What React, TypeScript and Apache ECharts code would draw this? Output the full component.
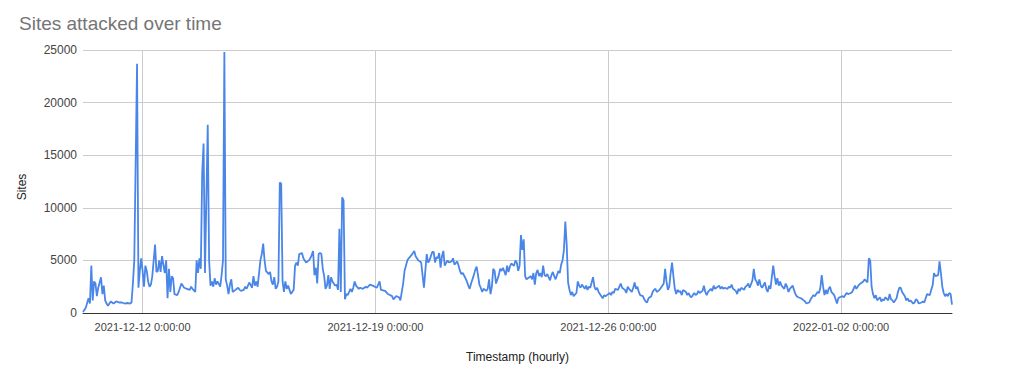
import React, { useEffect, useRef } from "react";
import * as echarts from "echarts";

// First hourly timestamp shown (UTC fields used for formatting)
const START_UTC = Date.UTC(2021, 11, 10, 5, 0, 0);
const HOUR_COUNT = 628; // hours 0..627

// Hour offsets from the first timestamp, and sites attacked at those hours
const hours = [
  0, 2, 4, 5, 6, 7, 8, 9, 10, 11, 13, 14, 15, 16, 17, 18, 20, 22, 24, 26, 28, 30, 32, 34, 35, 36, 37, 39, 40,
  41, 42, 43, 44, 45, 46, 47, 48, 49, 50, 52, 53, 54, 55, 56, 57, 58, 59, 60, 61, 62, 63, 64, 65, 66, 68, 69,
  71, 73, 75, 77, 78, 79, 81, 82, 83, 84, 85, 86, 87, 88, 90, 91, 92, 93, 94, 95, 96, 97, 99, 100, 101, 102,
  103, 104, 105, 106, 107, 108, 110, 111, 112, 113, 114, 116, 117, 118, 119, 120, 122, 123, 124, 125, 126,
  128, 129, 130, 131, 132, 134, 135, 136, 137, 138, 139, 140, 141, 142, 143, 144, 145, 146, 147, 148, 149,
  150, 152, 153, 154, 155, 156, 158, 159, 160, 161, 163, 164, 165, 166, 167, 168, 169, 170, 171, 172, 173,
  174, 175, 176, 177, 178, 179, 180, 182, 183, 184, 185, 186, 187, 188, 189, 190, 191, 193, 194, 195, 196,
  197, 199, 200, 202, 204, 205, 207, 209, 212, 214, 215, 218, 220, 223, 224, 226, 228, 229, 231, 232, 234,
  235, 237, 239, 240, 242, 244, 246, 247, 248, 249, 250, 252, 253, 254, 255, 256, 257, 258, 259, 260, 261,
  263, 264, 266, 267, 268, 270, 271, 272, 273, 274, 276, 277, 278, 279, 280, 282, 283, 284, 285, 286, 287,
  288, 289, 291, 292, 293, 294, 295, 296, 297, 298, 300, 301, 302, 303, 305, 306, 307, 308, 309, 311, 312,
  313, 314, 315, 316, 317, 318, 319, 320, 321, 323, 324, 325, 326, 327, 328, 329, 330, 331, 332, 333, 334,
  335, 337, 338, 339, 340, 341, 343, 344, 345, 346, 347, 348, 349, 350, 351, 352, 353, 354, 356, 357, 358,
  359, 360, 362, 363, 364, 365, 366, 368, 369, 370, 371, 372, 374, 375, 376, 377, 378, 380, 381, 382, 383,
  384, 386, 387, 388, 389, 391, 392, 393, 394, 396, 397, 398, 399, 400, 401, 402, 404, 405, 406, 407, 408,
  410, 411, 412, 413, 414, 416, 417, 419, 420, 421, 422, 423, 424, 425, 426, 427, 428, 429, 430, 431, 432,
  433, 435, 436, 437, 438, 439, 441, 442, 443, 444, 445, 447, 448, 449, 450, 451, 453, 454, 455, 456, 457,
  459, 460, 461, 462, 463, 465, 466, 467, 468, 469, 471, 472, 473, 474, 475, 477, 478, 479, 480, 481, 483,
  484, 485, 486, 487, 488, 489, 490, 492, 493, 494, 495, 496, 498, 499, 500, 501, 502, 503, 504, 506, 507,
  508, 509, 510, 512, 513, 514, 515, 516, 518, 519, 520, 521, 522, 524, 525, 526, 527, 528, 530, 531, 532,
  533, 534, 535, 536, 537, 538, 539, 540, 542, 543, 544, 545, 546, 548, 549, 550, 551, 552, 554, 555, 556,
  557, 558, 560, 561, 562, 563, 564, 566, 567, 568, 569, 570, 571, 572, 573, 575, 576, 577, 578, 579, 581,
  582, 583, 584, 585, 587, 588, 589, 590, 591, 593, 594, 595, 596, 597, 599, 600, 601, 602, 603, 605, 606,
  607, 608, 609, 611, 612, 613, 614, 615, 617, 618, 619, 620, 621, 622, 623, 624, 625, 626, 627,
];

const sites = [
  100, 500, 1400, 900, 4500, 1200, 3000, 2800, 1600, 2400, 3400, 1800, 2600, 1200, 900, 700, 1100, 900, 1100,
  1000, 1000, 900, 950, 900, 1000, 2800, 5000, 23700, 2400,
  4000, 5200, 4000, 2500, 4500, 4000, 3000, 2500, 2700, 3500, 6500, 3900, 4000, 5000, 3900, 5400, 4600, 3800,
  5000, 1400, 4200, 2000, 3500, 3300, 1800, 1700, 2000,
  2800, 2400, 2300, 2200, 2500, 2300, 2000, 5000, 3800, 5200, 4200, 13300, 16100, 3800, 17900, 5000, 2600,
  3000, 2500, 3300, 2700, 3000, 2500, 3600, 5000, 24800,
  3200, 2600, 1800, 2700, 3200, 2000, 2200, 2300, 2400, 2200, 2100, 2200, 2500, 2300, 2600, 2900, 2400, 3500,
  2600, 3000, 2500,
  5000, 5600, 6600, 5000, 4000, 3700, 3900, 3000, 2700, 3400, 2300, 2500, 3000, 12400, 12300, 3000, 2000,
  3000, 2300, 2600, 2200,
  1800, 2200, 4500, 4800, 4500, 5600, 5700, 5200, 5000, 4800, 5000, 5200, 5500, 5900, 3600, 4300, 2800, 5600,
  5700, 5600, 4200,
  3500, 2300, 2600, 3600, 2300, 3400, 3000, 2600, 2700, 2200, 8000, 2000, 11000, 10700, 1300, 1800, 1700,
  2300, 2000, 2400, 3000,
  2600, 2300, 2400, 2300, 2500, 2400, 2700, 2600, 2400, 3000, 2200, 2100, 1800, 1600, 1300, 1600, 1500, 1200,
  2800, 4000, 5000,
  5200, 5500, 5900, 5400, 5000, 4800, 2400, 4000, 5600, 4800, 5000, 5800, 5800, 4800, 5300, 5200, 5700, 4300,
  5400, 5900, 4500,
  5000, 4800, 4900, 5200, 4600, 4900, 4500, 4000, 3700, 3800, 3300, 3000, 2600, 2300, 2800, 3600, 4100, 4400,
  3600, 2700, 2400,
  2000, 2300, 2100, 2300, 3200, 1800, 2500, 4200, 4000, 2800, 3600, 4200, 4000, 4300, 3600, 4500, 3900, 4400,
  4700, 4500, 5000,
  4800, 4000, 4500, 7400, 6000, 7000, 3500, 3200, 3300, 3500, 3200, 3800, 2700, 3800, 4100, 3500, 3800, 3400,
  4500, 3600, 3500,
  3700, 3100, 3600, 3900, 3500, 3200, 4000, 3800, 4600, 5000, 6000, 8700, 6500, 2900, 2200, 1700, 2000, 1600,
  1900, 3000, 2600,
  2400, 2700, 2300, 2600, 2200, 2500, 2400, 3400, 2500, 2200, 2400, 2000, 1600, 1400, 1700, 1600, 1700, 1900,
  1700, 2000, 1900,
  2300, 2200, 2500, 2800, 2400, 2200, 1900, 2500, 2300, 2000, 2400, 2900, 2300, 2500, 2000, 1700, 1600, 1300,
  1100, 1000, 1400,
  1600, 2000, 2200, 2300, 2000, 2200, 2400, 2800, 4200, 3000, 2200, 2500, 3800, 4800, 3500, 2300, 1800, 2200,
  2000, 2100, 1700,
  2200, 2000, 1700, 1900, 1600, 1500, 1900, 1700, 1800, 2100, 1900, 2100, 2600, 2000, 1700, 2000, 2300, 2100,
  2600, 2300, 2400,
  2600, 2300, 2500, 2300, 2400, 2300, 2500, 2400, 2700, 2300, 2100, 1800, 2300, 2100, 2400, 2200, 2500, 2600,
  2800, 2400, 3100,
  4200, 3200, 3000, 2600, 3200, 2600, 2400, 2900, 2300, 2000, 2600, 2300, 4500, 3500, 2700, 3300, 2600, 3000,
  2600, 2300, 2800,
  2500, 2000, 2300, 2600, 2200, 1800, 1600, 1500, 1400, 1300, 1200, 1100, 900, 1000, 1300, 1500, 1700, 1600,
  2000, 1900, 2400,
  3600, 2500, 1700, 2200, 1800, 2300, 2500, 2000, 1700, 1300, 900, 1400, 1500, 1600, 1500, 1700, 1900, 1800,
  1900, 2000, 2300,
  2600, 2300, 2700, 2800, 2900, 3000, 3200, 2900, 5200, 5000, 2500, 1800, 1400, 1700, 1200, 1500, 1100, 1300,
  1200, 1500, 1200,
  1800, 1300, 1200, 1000, 1400, 2000, 2400, 2400, 2000, 1600, 1200, 1400, 1100, 1200, 900, 1000, 1300, 1200,
  900, 1000, 1100,
  1000, 1400, 1800, 1700, 2200, 2600, 3800, 3500, 3600, 4900, 3800, 2500, 1900, 1600, 1800, 1600, 1900, 1800,
  800,
];

const yTicks = [0, 5000, 10000, 15000, 20000, 25000];
// Hour indices of the labelled x ticks (midnight of 12-12, 12-19, 12-26, 01-02)
const labelledHours = [43, 211, 379, 547];

const pad = (n: number) => (n < 10 ? "0" + n : "" + n);
const categories: string[] = [];
for (let h = 0; h < HOUR_COUNT; h++) {
  const d = new Date(START_UTC + h * 3600 * 1000);
  categories.push(
    `${d.getUTCFullYear()}-${pad(d.getUTCMonth() + 1)}-${pad(d.getUTCDate())} ${d.getUTCHours()}:00:00`
  );
}

const FONT = "'Liberation Sans', Arial, sans-serif";

export default function App() {
  const ref = useRef<HTMLDivElement>(null);

  useEffect(() => {
    if (!ref.current) return;
    const chart = echarts.init(ref.current, undefined, { renderer: "svg" });
    const isLabelled = (index: number) => labelledHours.indexOf(index) >= 0;
    const n = Math.min(hours.length, sites.length);
    const data: [string, number][] = [];
    for (let i = 0; i < n; i++) data.push([categories[hours[i]], sites[i]]);

    chart.setOption({
      animation: false,
      backgroundColor: "#ffffff",
      textStyle: { fontFamily: FONT },
      title: {
        text: "Sites attacked over time",
        left: 14,
        top: 9,
        textStyle: { fontFamily: FONT, fontSize: 19, fontWeight: "normal", color: "#757575" },
      },
      grid: { left: 83, right: 72, top: 50, bottom: 70 },
      xAxis: {
        type: "category",
        data: categories,
        boundaryGap: false,
        name: "Timestamp (hourly)",
        nameLocation: "middle",
        nameGap: 38,
        nameTextStyle: { fontFamily: FONT, fontSize: 12, color: "#222" },
        axisLine: { show: true, lineStyle: { color: "#333", width: 1 } },
        axisTick: { show: false },
        axisLabel: {
          interval: (index: number) => isLabelled(index),
          fontFamily: FONT,
          fontSize: 11,
          color: "#444",
          margin: 8,
        },
        splitLine: {
          show: true,
          interval: (index: number) => isLabelled(index),
          lineStyle: { color: "#cccccc", width: 1 },
        },
      },
      yAxis: {
        type: "value",
        min: yTicks[0],
        max: yTicks[yTicks.length - 1],
        interval: yTicks[1] - yTicks[0],
        name: "Sites",
        nameLocation: "middle",
        nameGap: 55,
        nameTextStyle: { fontFamily: FONT, fontSize: 12, color: "#222", padding: [0, 11, 0, 0] },
        axisLine: { show: false },
        axisTick: { show: false },
        axisLabel: {
          fontFamily: FONT,
          fontSize: 12,
          color: "#444",
          margin: 6,
          formatter: (v: number) => String(v),
        },
        splitLine: { show: true, lineStyle: { color: "#cccccc", width: 1 } },
      },
      series: [
        {
          type: "line",
          data,
          showSymbol: false,
          symbol: "none",
          lineStyle: { color: "#4a86e8", width: 1.8 },
          itemStyle: { color: "#4a86e8" },
          z: 3,
        },
      ],
    });
    return () => chart.dispose();
  }, []);

  return (
    <div
      ref={ref}
      style={{ position: "absolute", left: 0, top: 0, width: 1024, height: 383, background: "#fff" }}
    />
  );
}
